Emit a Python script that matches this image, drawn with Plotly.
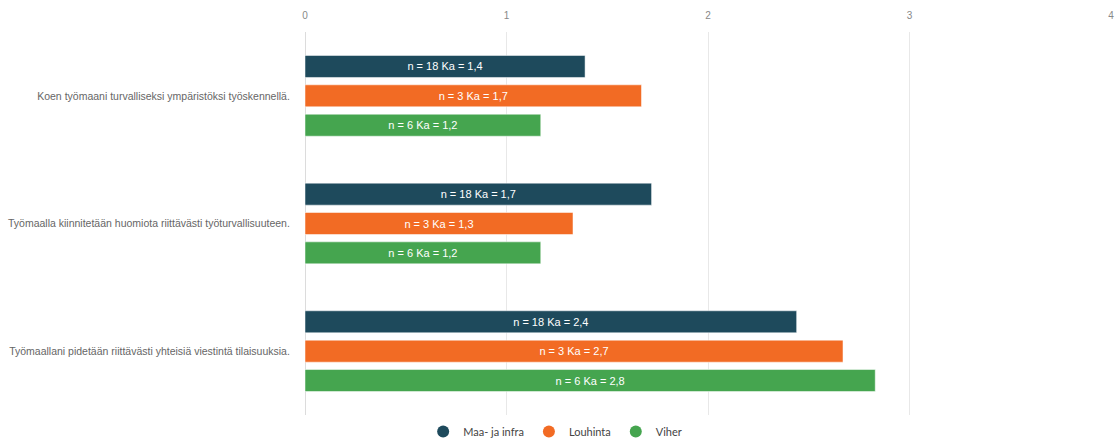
import plotly.graph_objects as go

categories = [
    "Koen työmaani turvalliseksi ympäristöksi työskennellä.",
    "Työmaalla kiinnitetään huomiota riittävästi työturvallisuuteen.",
    "Työmaallani pidetään riittävästi yhteisiä viestintä tilaisuuksia.",
]
series_names = ["Maa- ja infra", "Louhinta", "Viher"]
counts = [18, 3, 6]
maa_values = [1.39, 1.72, 2.44]
louhinta_values = [1.67, 1.33, 2.67]
viher_values = [1.17, 1.17, 2.83]
colors = ["#1e4a5c", "#f26b24", "#45a54f"]
tick_values = [0, 1, 2, 3, 4]

fig = go.Figure()
for name, n, vals, col in zip(series_names, counts, [maa_values, louhinta_values, viher_values], colors):
    texts = [f"n = {n} Ka = {v:.1f}".replace(".", ",") for v in vals]
    fig.add_trace(go.Bar(
        name=name, y=categories, x=vals, orientation="h",
        marker=dict(color=col, line=dict(color="rgba(255,255,255,0.5)", width=1)),
        text=texts, textposition="inside", insidetextanchor="middle",
        textfont=dict(color="white", size=11, family="Liberation Sans, Arial"),
        hoverinfo="skip", showlegend=False,
    ))
# legend entries with round markers
for name, col in zip(series_names, colors):
    fig.add_trace(go.Scatter(
        name=name, x=[None], y=[None], mode="markers",
        marker=dict(symbol="circle", size=11, color=col), showlegend=True,
    ))

fig.update_layout(
    width=1117, height=446,
    margin=dict(l=305, r=6, t=32, b=31, autoexpand=False),
    paper_bgcolor="white", plot_bgcolor="white",
    barmode="group", bargap=0.31, bargroupgap=0.25,
    font=dict(family="Liberation Sans, Arial", color="#666666", size=10),
    xaxis=dict(
        side="top", range=[0, 4], tickvals=tick_values,
        showgrid=True, gridcolor="#e8e8e8", gridwidth=1,
        zeroline=True, zerolinecolor="#dcdcdc", zerolinewidth=1,
        showline=False, tickfont=dict(size=10, color="#888888"),
        ticklabelstandoff=10, fixedrange=True,
    ),
    yaxis=dict(
        autorange="reversed", showgrid=False, zeroline=False, showline=False,
        ticks="outside", ticklen=12, tickcolor="rgba(0,0,0,0)",
        tickfont=dict(size=10.5, color="#666666"),
    ),
    showlegend=True,
    legend=dict(
        orientation="h", xref="container", x=0.497, xanchor="center",
        yref="container", y=-0.012, yanchor="bottom",
        font=dict(family="Lato, Liberation Sans", size=11, color="#444444"),
        itemsizing="constant", itemwidth=30,
    ),
)

fig.write_html("out.html")
